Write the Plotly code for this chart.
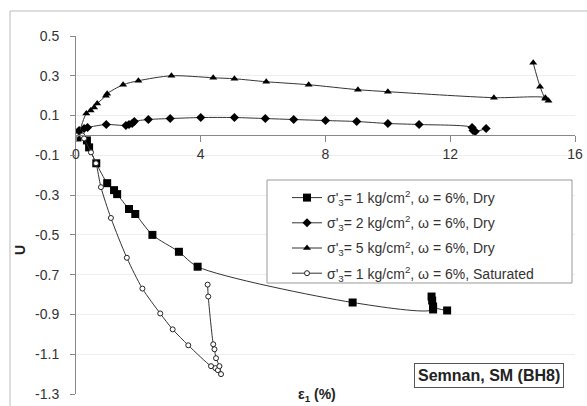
import plotly.graph_objects as go

# sigma'3 = 1 kg/cm2, dry (filled squares)
sq_x = [0, 0.05, 0.35, 0.42, 0.65, 1.0, 1.22, 1.32, 1.70, 1.90, 2.45, 3.30, 3.90, 8.87, 11.45, 11.42, 11.40, 11.45, 11.90]
sq_y = [0, -0.01, -0.025, -0.06, -0.14, -0.24, -0.275, -0.295, -0.37, -0.395, -0.50, -0.585, -0.66, -0.84, -0.875, -0.83, -0.81, -0.86, -0.88]

# sigma'3 = 2 kg/cm2, dry (diamonds)
di_x = [0, 0.10, 0.26, 0.37, 0.97, 1.60, 1.70, 1.80, 1.87, 2.32, 3.02, 4.0, 5.08, 6.07, 6.98, 8.0, 9.0, 10.0, 11.0, 12.70, 12.73, 12.80, 13.15]
di_y = [0, 0.025, 0.035, 0.04, 0.055, 0.05, 0.055, 0.06, 0.07, 0.08, 0.085, 0.09, 0.09, 0.085, 0.08, 0.075, 0.07, 0.06, 0.055, 0.04, 0.025, 0.02, 0.035]

# sigma'3 = 5 kg/cm2, dry (triangles)
tr_x = [0, 0.10, 0.33, 0.47, 0.58, 0.68, 0.96, 1.0, 1.51, 2.0, 3.06, 4.4, 5.08, 6.10, 7.46, 9.04, 10.0, 13.4, 15.05, 15.15, 15.05, 14.88, 14.66]
tr_y = [0, 0.02, 0.11, 0.125, 0.14, 0.16, 0.20, 0.21, 0.255, 0.275, 0.30, 0.29, 0.285, 0.27, 0.255, 0.23, 0.22, 0.19, 0.19, 0.175, 0.185, 0.245, 0.365]

# sigma'3 = 1 kg/cm2, saturated (open circles)
ci_x = [0, 0.20, 0.26, 0.48, 0.64, 0.80, 1.12, 1.63, 2.13, 2.70, 3.10, 3.60, 4.33, 4.47, 4.55, 4.65, 4.60, 4.49, 4.44, 4.40, 4.24, 4.22]
ci_y = [0, 0.0, -0.015, -0.085, -0.14, -0.26, -0.415, -0.615, -0.77, -0.895, -0.975, -1.055, -1.16, -1.17, -1.18, -1.20, -1.16, -1.12, -1.075, -1.05, -0.81, -0.75]

names = [
    "σ'<sub>3</sub>= 1 kg/cm<sup>2</sup>, ω = 6%, Dry",
    "σ'<sub>3</sub>= 2 kg/cm<sup>2</sup>, ω = 6%, Dry",
    "σ'<sub>3</sub>= 5 kg/cm<sup>2</sup>, ω = 6%, Dry",
    "σ'<sub>3</sub>= 1 kg/cm<sup>2</sup>, ω = 6%, Saturated",
]

y_ticks = [0.5, 0.3, 0.1, -0.1, -0.3, -0.5, -0.7, -0.9, -1.1, -1.3]
x_ticks = [0, 4, 8, 12, 16]

W, H = 587, 406
L, R, T, B = 76, 12, 36, 12
pw, ph = W - L - R, H - T - B

def px(x):
    return (x - L) / pw

def py(y):
    return (H - B - y) / ph

line_col = "#333333"
fig = go.Figure()
series = [
    (sq_x, sq_y, dict(symbol="square", size=8, color="black")),
    (di_x, di_y, dict(symbol="diamond", size=7, color="black")),
    (tr_x, tr_y, dict(symbol="triangle-up", size=7, color="black")),
    (ci_x, ci_y, dict(symbol="circle", size=5, color="white", line=dict(color="#222", width=1))),
]
for i, (xs, ys, mk) in enumerate(series):
    fig.add_trace(go.Scatter(
        x=xs, y=ys, mode="lines+markers", name=names[i], legendgroup=str(i),
        line=dict(color=line_col, width=1, shape="spline", smoothing=0.8),
        marker=mk,
    ))

font_main = "Liberation Sans, Arial, sans-serif"
fig.update_layout(
    width=W, height=H,
    margin=dict(l=L, r=R, t=T, b=B, autoexpand=False),
    paper_bgcolor="white", plot_bgcolor="white",
    font=dict(family=font_main, color="#333333", size=13),
    showlegend=True,
    legend=dict(
        x=px(287), y=py(182), xanchor="left", yanchor="top",
        bgcolor="rgba(0,0,0,0)", borderwidth=0,
        font=dict(size=14, color="#333333"),
        tracegroupgap=4, itemwidth=30,
    ),
    xaxis=dict(
        range=[0, 16], tickvals=x_ticks, showgrid=False, zeroline=False,
        showline=True, linecolor="#888888", linewidth=1,
        ticks="outside", ticklen=6, tickcolor="#888888",
        anchor="free", position=(0 - (-1.3)) / 1.8, automargin=False,
        tickfont=dict(size=14, color="#333333"),
    ),
    yaxis=dict(
        range=[-1.3, 0.5], tickvals=y_ticks, ticktext=[str(v) for v in y_ticks],
        showgrid=True, gridcolor="#eeeeee", gridwidth=1, zeroline=False,
        showline=True, linecolor="#888888", linewidth=1,
        ticks="outside", ticklen=5, tickcolor="#888888", automargin=False,
        tickfont=dict(size=14, color="#333333"),
        ticklabelstandoff=8,
    ),
)

shapes = [
    # outer chart frame
    dict(type="rect", xref="paper", yref="paper", x0=px(10), y0=py(410), x1=px(592), y1=py(11),
         line=dict(color="#bbbbbb", width=1), fillcolor="rgba(0,0,0,0)", layer="below"),
    # legend frame
    dict(type="rect", xref="paper", yref="paper", x0=px(267), y0=py(283), x1=px(572), y1=py(180),
         line=dict(color="#999999", width=1), fillcolor="white", layer="above"),
]
fig.update_layout(shapes=shapes)

fig.add_annotation(
    text="<b>Semnan, SM (BH8)</b>", xref="paper", yref="paper",
    x=px(489), y=py(375), xanchor="center", yanchor="middle", showarrow=False,
    font=dict(size=16, color="#222222"), bordercolor="#555555", borderwidth=1,
    borderpad=3, bgcolor="white",
)
fig.add_annotation(
    text="<b>ε<sub>1</sub> (%)</b>", xref="paper", yref="paper",
    x=px(317), y=py(406), xanchor="center", yanchor="bottom", showarrow=False,
    font=dict(size=14, color="#222222"),
)
fig.add_annotation(
    text="<b>U</b>", xref="paper", yref="paper", textangle=-90,
    x=px(20), y=py(250), xanchor="center", yanchor="middle", showarrow=False,
    font=dict(size=14, color="#222222"),
)

fig.write_html("out.html")
